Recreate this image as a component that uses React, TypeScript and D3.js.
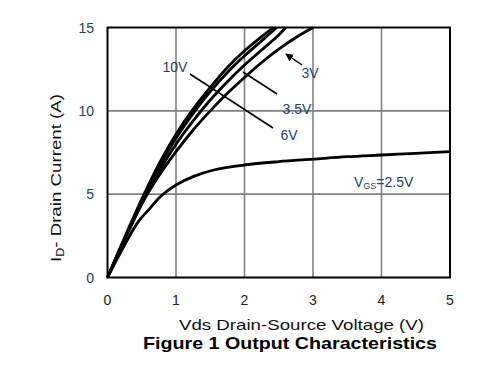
import React from "react";
import * as d3 from "d3";

const xTicks = [0, 1, 2, 3, 4, 5];
const yTicks = [0, 5, 10, 15];

const vds10 = [0, 0.25, 0.5, 0.75, 1, 1.25, 1.5, 1.75, 2, 2.25, 2.42];
const id10 = [0, 2.4, 4.7, 6.8, 8.6, 10.1, 11.4, 12.6, 13.6, 14.45, 15];
const vds6 = [0, 0.25, 0.5, 0.75, 1, 1.25, 1.5, 1.75, 2, 2.25, 2.47];
const id6 = [0, 2.35, 4.6, 6.6, 8.35, 9.85, 11.15, 12.3, 13.3, 14.2, 15];
const vds35 = [0, 0.25, 0.5, 0.75, 1, 1.25, 1.5, 1.75, 2, 2.25, 2.5, 2.6];
const id35 = [0, 2.3, 4.45, 6.35, 8.0, 9.4, 10.65, 11.75, 12.75, 13.65, 14.55, 15];
const vds3 = [0, 0.25, 0.5, 0.75, 1, 1.25, 1.5, 1.75, 2, 2.25, 2.5, 2.75, 3];
const id3 = [0, 2.25, 4.4, 6.1, 7.55, 8.85, 10.0, 11.05, 12.0, 12.9, 13.7, 14.4, 15];
const vds25 = [0, 0.25, 0.45, 0.62, 0.77, 1, 1.25, 1.55, 2, 2.5, 3, 3.5, 4, 4.5, 5];
const id25 = [0, 1.95, 3.35, 4.15, 4.85, 5.55, 6.05, 6.45, 6.75, 6.95, 7.1, 7.25, 7.35, 7.45, 7.55];

const series = [
  { x: vds10, y: id10 },
  { x: vds6, y: id6 },
  { x: vds35, y: id35 },
  { x: vds3, y: id3 },
  { x: vds25, y: id25 },
];

const L = 107.5, R = 450, T = 27.5, B = 277.5;
const blue = "#24406e";

export default function App() {
  const x = d3.scaleLinear().domain([0, 5]).range([L, R]);
  const y = d3.scaleLinear().domain([0, 15]).range([B, T]);
  const line = d3
    .line<[number, number]>()
    .x((d) => x(d[0]))
    .y((d) => y(d[1]))
    .curve(d3.curveCatmullRom.alpha(0.5));
  const font = "Arial, 'Liberation Sans', sans-serif";
  return (
    <svg width={481} height={383} style={{ position: "absolute", left: 0, top: 0, background: "#fff" }} fontFamily={font}>
      <defs>
        <marker id="ah" markerWidth="8" markerHeight="8" refX="7" refY="4" orient="auto" markerUnits="userSpaceOnUse">
          <path d="M0,0 L8,4 L0,8 z" fill="#000" />
        </marker>
      </defs>
      <rect x={0} y={0} width={481} height={383} fill="#fff" />
      {xTicks.slice(1, -1).map((t) => (
        <line key={"gx" + t} x1={x(t)} x2={x(t)} y1={T} y2={B} stroke="#808080" strokeWidth={1.6} />
      ))}
      {yTicks.slice(1, -1).map((t) => (
        <line key={"gy" + t} x1={L} x2={R} y1={y(t)} y2={y(t)} stroke="#808080" strokeWidth={1.6} />
      ))}
      {series.map((s, i) => (
        <path
          key={i}
          d={line(s.x.map((v, j) => [v, s.y[j]] as [number, number])) || ""}
          fill="none"
          stroke="#000"
          strokeWidth={2.8}
        />
      ))}
      <rect x={L} y={T} width={R - L} height={B - T} fill="none" stroke="#000" strokeWidth={2} />
      {xTicks.map((t) => (
        <text key={"xt" + t} x={x(t)} y={305} textAnchor="middle" fontSize={14} fill="#222">
          {t}
        </text>
      ))}
      {yTicks.map((t) => (
        <text key={"yt" + t} x={94} y={y(t) + 5} textAnchor="end" fontSize={14} fill={blue}>
          {t}
        </text>
      ))}
      <text x={179} y={330} fontSize={15} fill="#111" textLength={245} lengthAdjust="spacingAndGlyphs">
        Vds Drain-Source Voltage (V)
      </text>
      <text x={143} y={349} fontSize={17} fontWeight="bold" fill="#000" textLength={294} lengthAdjust="spacingAndGlyphs">
        Figure 1 Output Characteristics
      </text>
      <text transform="translate(61,262) rotate(-90)" fontSize={15} fill="#111" textLength={168} lengthAdjust="spacingAndGlyphs">
        I<tspan fontSize={10} dy={3}>D</tspan>
        <tspan dy={-3}>- Drain Current (A)</tspan>
      </text>
      {/* annotations */}
      <text x={175} y={72} textAnchor="middle" fontSize={14} fill={blue}>10V</text>
      <line x1={190} y1={74} x2={273} y2={128} stroke="#000" strokeWidth={1.5} />
      <text x={289} y={140} textAnchor="middle" fontSize={14} fill={blue}>6V</text>
      <line x1={243} y1={72} x2={277} y2={94} stroke="#000" strokeWidth={1.5} />
      <text x={297} y={114} textAnchor="middle" fontSize={14} fill={blue}>3.5V</text>
      <line x1={302} y1={65} x2={286} y2={54} stroke="#000" strokeWidth={1.5} markerEnd="url(#ah)" />
      <text x={310} y={78} textAnchor="middle" fontSize={14} fill={blue}>3V</text>
      <text x={354} y={187} fontSize={14} fill={blue}>
        V<tspan fontSize={9} dy={2}>GS</tspan>
        <tspan dy={-2}>=2.5V</tspan>
      </text>
    </svg>
  );
}
